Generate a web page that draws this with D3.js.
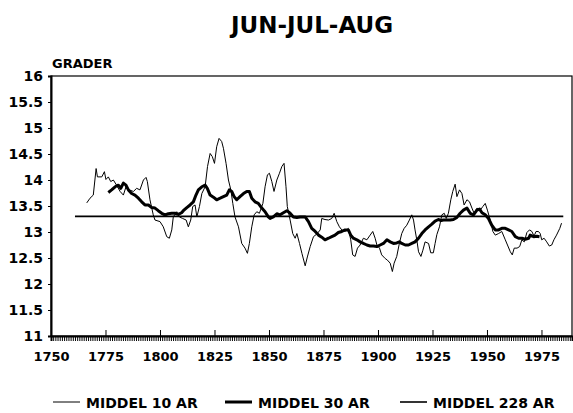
<!DOCTYPE html>
<html>
<head>
<meta charset="utf-8">
<script src="https://cdn.jsdelivr.net/npm/d3@7"></script>
<style>
  body { margin: 0; background: #fff; }
  svg { display: block; font-family: "DejaVu Sans", sans-serif; font-weight: bold; }
</style>
</head>
<body>
<div id="chart"></div>
<script>
// 10-year running mean (thin line)
const years10 = [1766.4,1767.9,1769.4,1770.7,1771.3,1773.3,1774.5,1775.2,1776.3,1777.4,1778.6,1780.1,1781.7,1783.2,1784.4,1785.9,1787.8,1789.3,1790.8,1792.4,1793.6,1794.2,1795.4,1796.9,1797.7,1800,1801.5,1803.1,1804.3,1805.4,1806.1,1807.7,1808.9,1810.4,1812,1813,1814.1,1815,1816.1,1816.9,1818.1,1819.2,1820.7,1821.8,1823,1824,1825,1826,1827.1,1828.3,1829.1,1830.3,1831.4,1832.5,1833.4,1834.4,1836,1837.5,1839,1840.1,1841,1842.1,1843.2,1844.4,1845.6,1847.2,1848.2,1849.3,1850.2,1851.3,1852.3,1853.6,1854.8,1855.9,1856.9,1857.8,1858.4,1859.7,1860.9,1862,1862.8,1864,1865.1,1866.6,1867.6,1868.9,1870.4,1871.9,1873.5,1874.2,1875.7,1877.3,1878.8,1879.9,1881.1,1882.3,1883.4,1884.9,1886.4,1887.5,1888.4,1889.5,1890.6,1891.8,1893.3,1894.9,1896.4,1897.6,1898.7,1899.5,1900.7,1901.7,1903.3,1904.3,1905.6,1906.6,1907.4,1908.6,1909.8,1910.9,1912,1913.2,1914.4,1915.5,1916.3,1917,1917.8,1918.6,1919.7,1920.6,1921.6,1923.2,1924.2,1925.4,1926.2,1927,1928.2,1929.3,1930.4,1931.3,1932.3,1933.4,1934.3,1935.4,1936.2,1937.4,1938.5,1939.5,1940.8,1942,1943.1,1944.1,1945.4,1946.9,1948.1,1949.2,1950.2,1951.5,1952.7,1953.8,1955.3,1956.8,1958.4,1959.4,1960.7,1961.6,1962.5,1963.8,1965,1966,1967.1,1968.3,1969.5,1970.6,1971.6,1972.5,1973.6,1974.4,1975.1,1976.2,1977.4,1978.6,1979.7,1980.7,1981.9,1983.4,1984.2];
const values10 = [13.56,13.65,13.71,14.22,14.06,14.06,14.16,14.01,14.06,13.97,14.0,13.9,13.78,13.71,13.87,13.81,13.78,13.84,13.81,14.0,14.05,13.97,13.62,13.33,13.23,13.2,13.10,12.91,12.88,13.04,13.29,13.39,13.29,13.26,13.23,13.10,13.23,13.49,13.52,13.29,13.49,13.74,13.87,14.26,14.51,14.45,14.32,14.64,14.80,14.74,14.61,14.32,14.0,13.81,13.55,13.29,13.10,12.78,12.69,12.59,12.78,13.10,13.33,13.39,13.36,13.55,13.87,14.10,14.13,13.97,13.78,14.0,14.13,14.26,14.32,13.87,13.49,13.23,12.97,12.88,12.97,12.78,12.59,12.35,12.52,12.72,12.91,12.96,13.04,13.26,13.24,13.23,13.26,13.36,13.20,13.10,13.04,13.01,13.07,12.85,12.56,12.53,12.69,12.75,12.88,12.85,12.94,13.01,12.88,12.75,12.69,12.56,12.49,12.46,12.40,12.24,12.40,12.53,12.78,12.97,13.07,13.13,13.23,13.33,13.23,13.04,12.85,12.62,12.53,12.65,12.81,12.78,12.6,12.6,12.78,12.95,13.10,13.33,13.36,13.26,13.36,13.62,13.78,13.92,13.68,13.81,13.74,13.52,13.62,13.58,13.46,13.36,13.46,13.42,13.49,13.55,13.42,13.23,13.01,12.94,12.97,13.01,12.85,12.75,12.62,12.56,12.69,12.69,12.72,12.85,12.81,12.99,13.04,13.01,12.92,13.01,13.01,12.97,12.85,12.88,12.81,12.73,12.75,12.85,12.94,13.07,13.17];

// 30-year running mean (thick line)
const years30 = [1776.3,1777.8,1779.4,1780.9,1782,1783.2,1784.4,1785.5,1787,1788.5,1790.1,1791.6,1793.1,1794.7,1796.2,1797.7,1799.2,1800.8,1802.3,1803.8,1805.4,1806.9,1808.4,1809.9,1810.7,1812.3,1813.8,1815.3,1816.5,1817.6,1819.2,1820.7,1821.7,1823,1824.5,1826,1827.6,1829.1,1830.6,1831.8,1832.9,1834,1835.2,1836.7,1838.3,1839.8,1841,1842.1,1843.6,1845.1,1846.7,1848.2,1849.7,1850.5,1852,1853.6,1855.1,1856.6,1858.2,1859.7,1861.2,1862.8,1864.3,1866.6,1868.1,1869.6,1871.2,1872.7,1874.2,1875.7,1877.3,1878.8,1880.3,1881.8,1883.4,1884.9,1886.4,1887.5,1888.7,1890.3,1891.8,1893.3,1894.9,1896.4,1897.9,1899.5,1901,1902.5,1904.1,1905.6,1907.1,1908.6,1909.8,1910.9,1912.5,1914,1915.5,1917,1918.6,1920.1,1921.6,1923.2,1924.7,1926.2,1927.7,1929,1930,1931.6,1933.1,1934.6,1936.2,1937.7,1939.2,1940.8,1942.3,1943.8,1945.4,1946.6,1947.7,1949.2,1950.7,1952.2,1953.8,1955.3,1956.8,1958.4,1959.9,1961.4,1963,1964.5,1966,1967.5,1969.1,1969.8,1971.4,1972.9,1974.1];
const values30 = [13.76,13.81,13.87,13.90,13.84,13.94,13.90,13.81,13.74,13.71,13.65,13.58,13.52,13.52,13.47,13.46,13.41,13.36,13.33,13.35,13.36,13.36,13.34,13.37,13.41,13.47,13.52,13.58,13.71,13.81,13.87,13.90,13.84,13.71,13.67,13.62,13.65,13.68,13.71,13.81,13.78,13.68,13.62,13.68,13.74,13.78,13.78,13.65,13.58,13.55,13.46,13.39,13.29,13.26,13.29,13.35,13.33,13.37,13.41,13.36,13.29,13.28,13.29,13.29,13.20,13.07,13.01,12.94,12.90,12.85,12.88,12.91,12.94,12.99,13.01,13.04,13.04,12.94,12.88,12.85,12.81,12.78,12.75,12.73,12.73,12.72,12.75,12.78,12.85,12.81,12.78,12.79,12.81,12.78,12.75,12.75,12.78,12.81,12.88,12.97,13.04,13.10,13.15,13.21,13.24,13.22,13.23,13.23,13.23,13.24,13.28,13.36,13.42,13.46,13.36,13.33,13.42,13.44,13.37,13.33,13.26,13.13,13.04,13.04,13.07,13.07,13.04,13.01,12.91,12.88,12.88,12.86,12.88,12.94,12.91,12.92,12.91];

// 228-year mean (1761-1988)
const years228 = [1761, 1985];
const values228 = [13.3, 13.3];

const yTicks = [11, 11.5, 12, 12.5, 13, 13.5, 14, 14.5, 15, 15.5, 16];
const xTicks = [1750, 1775, 1800, 1825, 1850, 1875, 1900, 1925, 1950, 1975];
const legendLabels = ["MIDDEL 10 AR", "MIDDEL 30 AR", "MIDDEL 228 AR"];

const width = 573, height = 413;
const plotLeft = 51, plotRight = 572, plotTop = 76, plotBottom = 336;

const svg = d3.select("#chart").append("svg")
  .attr("width", width).attr("height", height);

const x = d3.scaleLinear().domain([1750, 1989]).range([plotLeft, plotRight]);
const y = d3.scaleLinear().domain([11, 16]).range([plotBottom, plotTop]);

// title
svg.append("text")
  .attr("x", 312).attr("y", 33)
  .attr("text-anchor", "middle")
  .attr("font-size", "23px")
  .text("JUN-JUL-AUG");

svg.append("text")
  .attr("x", 52).attr("y", 68)
  .attr("font-size", "13px")
  .text("GRADER");

// frame
svg.append("rect")
  .attr("x", plotLeft).attr("y", plotTop)
  .attr("width", plotRight - plotLeft).attr("height", plotBottom - plotTop)
  .attr("fill", "none").attr("stroke", "#000").attr("stroke-width", 1.2);

// y axis
const yAxis = svg.append("g")
  .attr("transform", `translate(${plotLeft},0)`)
  .call(d3.axisLeft(y).tickValues(yTicks).tickSize(3).tickPadding(5).tickFormat(d3.format("")));
yAxis.select(".domain").attr("stroke-width", 2);
yAxis.selectAll("text").attr("font-size", "14px").attr("font-family", "DejaVu Sans").attr("font-weight", "bold");

// yearly minor ticks below the axis
const minor = svg.append("g")
  .attr("transform", `translate(0,${plotBottom})`)
  .call(d3.axisBottom(x).tickValues(d3.range(1750, 1989)).tickSize(5).tickFormat(""));
minor.select(".domain").attr("stroke-width", 2);

// major ticks pointing up, labels below
const xAxis = svg.append("g")
  .attr("transform", `translate(0,${plotBottom})`)
  .call(d3.axisBottom(x).tickValues(xTicks).tickSizeInner(-6).tickSizeOuter(0).tickPadding(16).tickFormat(d3.format("d")));
xAxis.select(".domain").remove();
xAxis.selectAll("text").attr("font-size", "13px").attr("font-family", "DejaVu Sans").attr("font-weight", "bold");

// series
const line = d3.line().x(d => x(d[0])).y(d => y(d[1]));

svg.append("path")
  .datum(d3.zip(years228, values228))
  .attr("d", line)
  .attr("fill", "none").attr("stroke", "#000").attr("stroke-width", 1.6);

svg.append("path")
  .datum(d3.zip(years10, values10))
  .attr("d", line)
  .attr("fill", "none").attr("stroke", "#000").attr("stroke-width", 1)
  .attr("stroke-linejoin", "round");

svg.append("path")
  .datum(d3.zip(years30, values30))
  .attr("d", line)
  .attr("fill", "none").attr("stroke", "#000").attr("stroke-width", 3)
  .attr("stroke-linejoin", "round");

// legend
const legendX = [53, 225, 400];
const legendW = [1, 3, 1.6];
const legend = svg.append("g");
legendLabels.forEach((lab, i) => {
  legend.append("line")
    .attr("x1", legendX[i]).attr("x2", legendX[i] + 27)
    .attr("y1", 402).attr("y2", 402)
    .attr("stroke", "#000").attr("stroke-width", legendW[i]);
  legend.append("text")
    .attr("x", legendX[i] + 33).attr("y", 408)
    .attr("font-size", "14px")
    .text(lab);
});
</script>
</body>
</html>
